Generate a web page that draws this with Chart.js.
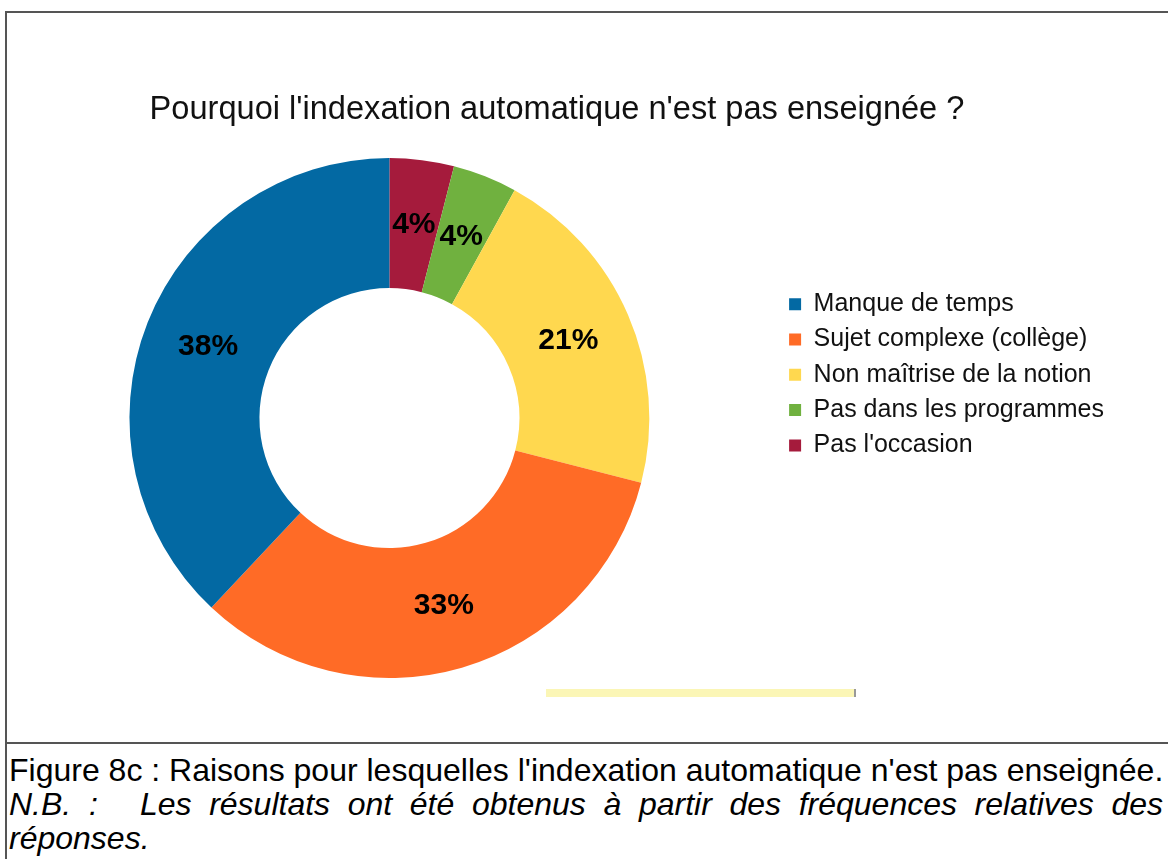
<!DOCTYPE html>
<html lang="fr">
  <head>
    <meta charset="UTF-8" />
    <title>Pourquoi l'indexation automatique n'est pas enseignée ?</title>
    <script src="https://cdn.jsdelivr.net/npm/chart.js"></script>
    <style>
      body {
        margin: 0;
        background: #fff;
        width: 1168px;
        height: 859px;
        position: relative;
        overflow: hidden;
        font-family: "Liberation Sans", Arial, sans-serif;
      }
      .rule { position: absolute; background: #555; }
      #frameTop { left: 5px; top: 11px; width: 1163px; height: 2px; }
      #frameLeft { left: 5px; top: 11px; width: 2px; height: 848px; }
      #frameSep { left: 5px; top: 742px; width: 1163px; height: 2px; }
      #yellowBar { position: absolute; left: 546px; top: 689px; width: 308px; height: 8px; background: #fbf6b6; border-right: 2px solid #999; }
      #salesChart { position: absolute; left: 0; top: 0; }
      #caption { position: absolute; left: 9px; top: 753px; width: 1154px; font-size: 32px; line-height: 34px; color: #000; }
      #caption .l1 { white-space: nowrap; }
      #caption .nb { font-style: italic; text-align: justify; }
      #caption .nbHead { display: inline-block; white-space: nowrap; }
      #caption .tab { display: inline-block; width: 42px; }
    </style>
  </head>
  <body>
    <div class="rule" id="frameTop"></div>
    <div class="rule" id="frameLeft"></div>
    <div class="rule" id="frameSep"></div>
    <div id="yellowBar"></div>
    <canvas id="salesChart" width="1168" height="742"></canvas>
    <div id="caption">
      <div class="l1">Figure 8c : Raisons pour lesquelles l'indexation automatique n'est pas enseignée.</div>
      <div class="nb"><span class="nbHead">N.B.&nbsp;&nbsp;:</span><span class="tab"></span>Les résultats ont été obtenus à partir des fréquences relatives des réponses.</div>
    </div>
    <script>
      var chartTitle = "Pourquoi l'indexation automatique n'est pas enseignée ?";
      var categories = [
        "Manque de temps",
        "Sujet complexe (collège)",
        "Non maîtrise de la notion",
        "Pas dans les programmes",
        "Pas l'occasion",
      ];
      var percentages = [38, 33, 21, 4, 4];
      var sliceColors = ["#0369a3", "#ff6b26", "#ffd84f", "#70b13f", "#a51b3c"];

      var fontFamily = '"Liberation Sans", Arial, sans-serif';

      // l'original tourne dans le sens anti-horaire : on inverse l'ordre pour Chart.js
      // (la légende est remise dans l'ordre avec reverse: true)
      var drawLabels = categories.slice().reverse();
      var drawValues = percentages.slice().reverse();
      var drawColors = sliceColors.slice().reverse();

      // pourcentages écrits au milieu de chaque part
      var percentLabels = {
        id: "percentLabels",
        afterDatasetsDraw: function (chart) {
          var ctx = chart.ctx;
          var meta = chart.getDatasetMeta(0);
          var values = chart.data.datasets[0].data;
          ctx.save();
          ctx.font = "bold 30px " + fontFamily;
          ctx.fillStyle = "#000";
          ctx.textAlign = "center";
          ctx.textBaseline = "middle";
          meta.data.forEach(function (arc, i) {
            var p = arc.tooltipPosition();
            ctx.fillText(values[i] + "%", p.x, p.y);
          });
          ctx.restore();
        },
      };

      var ctx = document.getElementById("salesChart").getContext("2d");
      var myChart = new Chart(ctx, {
        type: "doughnut",
        data: {
          labels: drawLabels,
          datasets: [
            {
              data: drawValues,
              backgroundColor: drawColors,
              borderColor: drawColors,
              borderWidth: 0,
            },
          ],
        },
        options: {
          responsive: false,
          animation: false,
          cutout: "50%",
          layout: { padding: { left: 0, right: 54, top: 0, bottom: 64 } },
          plugins: {
            title: {
              display: true,
              text: chartTitle,
              color: "#111",
              font: { family: fontFamily, size: 32.6, weight: "normal" },
              padding: { top: 90, bottom: 29 },
            },
            legend: {
              position: "right",
              align: "start",
              reverse: true,
              // titre vide qui sert juste à descendre les entrées
              title: { display: true, text: "", padding: { top: 267, bottom: 0 } },
              labels: {
                boxWidth: 12,
                boxHeight: 12,
                padding: 10.3,
                color: "#111",
                font: { family: fontFamily, size: 25 },
              },
            },
            tooltip: { enabled: false },
          },
        },
        plugins: [percentLabels],
      });
    </script>
  </body>
</html>
